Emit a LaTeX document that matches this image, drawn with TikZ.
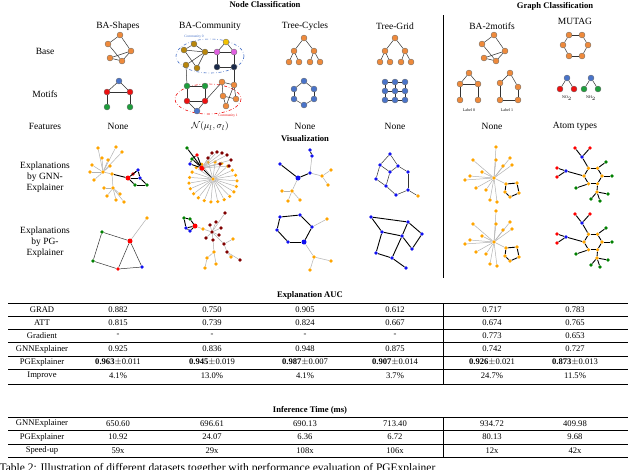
\documentclass[tikz,border=0pt]{standalone}
\usepackage{fontspec}
\setmainfont{Liberation Serif}
\usepackage{amsmath}
\usetikzlibrary{calc}
\newcommand{\trow}[8]{\node[tab] at (42,#1) {#2};\node[tab] at (118,#1) {#3};\node[tab] at (212,#1) {#4};
 \node[tab] at (305,#1) {#5};\node[tab] at (395,#1) {#6};\node[tab] at (492,#1) {#7};\node[tab] at (575,#1) {#8};}
\begin{document}
\begin{tikzpicture}[x=1pt,y=-1pt,
  v/.style={circle,draw=black!60,line width=0.3pt,inner sep=0,minimum size=6pt},
  s/.style={circle,inner sep=0,minimum size=3.6pt},
  e/.style={draw=black!80,line width=0.5pt},
  eb/.style={draw=black,line width=0.9pt},
  eg/.style={draw=black!30,line width=0.5pt},
  lab/.style={font=\fontsize{9.5}{11}\selectfont,align=center},
  tab/.style={font=\fontsize{8.6}{10}\selectfont},
  hd/.style={font=\fontsize{8.6}{10}\selectfont\bfseries}]
\definecolor{OR}{HTML}{EE8A3C}\definecolor{BL}{HTML}{4A74C9}
\definecolor{RD}{HTML}{EE1111}\definecolor{GR}{HTML}{1E9E3C}
\definecolor{BR}{HTML}{B8860B}\definecolor{MG}{HTML}{E060E0}
\definecolor{YL}{HTML}{F2C200}\definecolor{NV}{HTML}{1A2A4A}
\definecolor{EO}{HTML}{FFA500}\definecolor{EB}{HTML}{1010F0}
\definecolor{ER}{HTML}{FF0000}\definecolor{EG}{HTML}{008000}
\definecolor{ED}{HTML}{800000}
\clip (0,0) rectangle (640,469);
\fill[white] (0,0) rectangle (640,469);
% headings
\node[hd] (h1) at (265,5) {Node Classification};
\node[hd] (h2) at (555,6) {Graph Classification};
\draw[line width=0.8pt] (443,15) -- (443,278);
\foreach \x/\t in {118/BA-Shapes,210/BA-Community,305/Tree-Cycles,395/Tree-Grid,492/BA-2motifs}
  \node[lab] at (\x,26) {\t};
\node[lab] (mutag) at (575,21) {MUTAG};
\node[lab] (lb) at (45,51) {Base};
\node[lab] (lm) at (45,94) {Motifs};
\node[lab] (lf) at (45,126) {Features};
\foreach \x in {118,305,395,492} \node[lab] at (\x,126) {None};
\node[lab] at (210,126) {$\mathcal{N}(\mu_l,\sigma_l)$};
\node[lab] at (575,126) {Atom types};
\node[hd] (vis) at (305,139) {Visualization};
\node[lab] (lg) at (45,177) {Explanations\\by GNN-\\Explainer};
\node[lab] (lp) at (45,242) {Explanations\\by PG-\\Explainer};
% BA-Shapes base + BA-2motifs base
\foreach \dx/\p in {0/s,374/m}{
\begin{scope}[xshift=\dx]
\node[v,fill=OR] (\p a) at (108,44) {};\node[v,fill=OR] (\p b) at (120,35) {};
\node[v,fill=OR] (\p c) at (131,51) {};\node[v,fill=OR] (\p d) at (122,61) {};
\node[v,fill=OR] (\p e) at (110,58) {};
\foreach \a/\b in {a/b,b/c,c/d,a/d,e/c,e/d} \draw[e] (\p\a)--(\p\b);
\end{scope}}
% BA-Shapes motif
\node[v,fill=BL] (sm1) at (119,81) {};\node[v,fill=RD] (sm2) at (107,92) {};
\node[v,fill=RD] (sm3) at (130,92) {};\node[v,fill=GR] (sm4) at (107,107) {};
\node[v,fill=GR] (sm5) at (130,107) {};
\foreach \a/\b in {1/2,1/3,2/3,2/4,3/5} \draw[e] (sm\a)--(sm\b);
% BA-Community
\draw[BL,dash dot,line width=0.6pt] (210,56) ellipse [x radius=34,y radius=17];
\draw[RD,dash dot,line width=0.6pt] (208,99) ellipse [x radius=33,y radius=15];
\node[text=BL,font=\fontsize{3.5}{4}\selectfont] at (194,37) {Community 0};
\node[text=RD,font=\fontsize{3.5}{4}\selectfont] at (228,116) {Community 1};
\node[v,fill=BR] (c1) at (184,50) {};\node[v,fill=BR] (c2) at (194,44) {};
\node[v,fill=BR] (c3) at (205,52) {};\node[v,fill=BR] (c4) at (186,65) {};
\node[v,fill=BR] (c5) at (197,68) {};\node[v,fill=YL] (c6) at (226,42) {};
\node[v,fill=MG] (c7) at (217,52) {};\node[v,fill=MG] (c8) at (234,52) {};
\node[v,fill=NV] (c9) at (217,67) {};\node[v,fill=NV] (c10) at (234,67) {};
\foreach \a/\b in {1/2,2/3,1/3,1/5,3/4,3/5,3/7,6/7,6/8,7/8,7/9,8/10,9/10} \draw[e] (c\a)--(c\b);
\node[v,fill=GR] (d1) at (187,86) {};\node[v,fill=GR] (d2) at (205,86) {};
\node[v,fill=RD] (d3) at (187,101) {};\node[v,fill=RD] (d4) at (205,101) {};
\node[v,fill=BL] (d5) at (197,111) {};\node[v,fill=OR] (d6) at (222,82) {};
\node[v,fill=OR] (d7) at (234,85) {};\node[v,fill=OR] (d8) at (223,96) {};
\node[v,fill=OR] (d9) at (236,99) {};\node[v,fill=OR] (d10) at (226,106) {};
\foreach \a/\b in {1/2,1/3,2/4,3/4,3/5,4/5,4/6,6/7,6/8,7/9,8/9,8/10,7/10} \draw[e] (d\a)--(d\b);
\draw[e] (c4)--(d1);\draw[e] (c10)--(d7);
% Tree-Cycles / Tree-Grid base
\foreach \dx/\p in {0/t,91/u}{
\begin{scope}[xshift=\dx]
\node[v,fill=OR] (\p 0) at (304,38) {};
\node[v,fill=OR] (\p 1) at (294,51) {};\node[v,fill=OR] (\p 2) at (314,51) {};
\node[v,fill=OR] (\p 3) at (289,62) {};\node[v,fill=OR] (\p 4) at (299,62) {};
\node[v,fill=OR] (\p 5) at (310,62) {};\node[v,fill=OR] (\p 6) at (320,62) {};
\foreach \a/\b in {0/1,0/2,1/3,1/4,2/5,2/6} \draw[e] (\p\a)--(\p\b);
\end{scope}}
% Tree-Cycles motif
\node[v,fill=BL] (tc1) at (304,81) {};\node[v,fill=BL] (tc2) at (294,89) {};
\node[v,fill=BL] (tc3) at (314,89) {};\node[v,fill=BL] (tc4) at (294,99) {};
\node[v,fill=BL] (tc5) at (314,99) {};\node[v,fill=BL] (tc6) at (304,105) {};
\foreach \a/\b in {1/2,1/3,2/4,3/5,4/6,5/6} \draw[e] (tc\a)--(tc\b);
% Tree-Grid motif
\foreach \i/\x in {1/385,2/395,3/405}\foreach \j/\y in {1/82,2/91,3/100}
  \node[v,fill=BL] (g\i\j) at (\x,\y) {};
\foreach \i in {1,2,3}{\draw[e] (g1\i)--(g2\i)--(g3\i);\draw[e] (g\i1)--(g\i2)--(g\i3);}
% BA-2motifs motifs
\node[v,fill=OR] (p1) at (469,73) {};\node[v,fill=OR] (p2) at (460,84) {};
\node[v,fill=OR] (p3) at (478,84) {};\node[v,fill=OR] (p4) at (460,100) {};
\node[v,fill=OR] (p5) at (478,100) {};
\foreach \a/\b in {1/2,1/3,2/3,2/4,3/5} \draw[e] (p\a)--(p\b);
\node[v,fill=OR] (q1) at (510,73) {};\node[v,fill=OR] (q2) at (500,83) {};
\node[v,fill=OR] (q3) at (518,87) {};\node[v,fill=OR] (q4) at (500,100) {};
\node[v,fill=OR] (q5) at (518,100) {};
\foreach \a/\b in {1/2,1/3,2/4,4/5,3/5} \draw[e] (q\a)--(q\b);
\node[font=\fontsize{4}{5}\selectfont] at (469,110) {Label 0};
\node[font=\fontsize{4}{5}\selectfont] at (507,110) {Label 1};
% MUTAG base ring
\node[v,fill=OR] (r1) at (569,35) {};\node[v,fill=OR] (r2) at (582,35) {};
\node[v,fill=OR] (r3) at (588,45) {};\node[v,fill=OR] (r4) at (582,56) {};
\node[v,fill=OR] (r5) at (569,56) {};\node[v,fill=OR] (r6) at (563,45) {};
\foreach \a/\b in {1/2,2/3,3/4,4/5,5/6,6/1} \draw[e] (r\a)--(r\b);
\node[v,fill=BL] (n1) at (567,78) {};\node[v,fill=RD] (n2) at (560,89) {};\node[v,fill=RD] (n3) at (574,89) {};
\node[v,fill=BL] (n4) at (591,78) {};\node[v,fill=GR] (n5) at (584,89) {};\node[v,fill=GR] (n6) at (598,89) {};
\foreach \a/\b in {1/2,1/3,4/5,4/6} \draw[e] (n\a)--(n\b);
\node[font=\fontsize{4}{5}\selectfont] at (567,98) {NO$_2$};
\node[font=\fontsize{4}{5}\selectfont] at (591,98) {NH$_2$};
% ===== GNN explanations
% BA-Shapes
\node[s,fill=EO] (a0) at (103,172) {};\node[s,fill=EO] (a00) at (112,174) {};
\foreach \i/\x/\y in {1/98/148,2/116/147,3/122/152,4/92/165,5/94/180,6/108/160,7/102/158,8/110/166,9/90/172}
  {\node[s,fill=EO] (aa\i) at (\x,\y) {};\draw[eg] (a0)--(aa\i);}
\node[s,fill=EO] (ab) at (113,188) {};\draw[eg] (a00)--(ab);
\foreach \i/\x/\y in {1/107/196,2/120/194,3/124/202,4/104/188,5/116/200}
  {\node[s,fill=EO] (ac\i) at (\x,\y) {};\draw[eg] (ab)--(ac\i);}
\draw[eg] (a0)--(a00);
\node[s,fill=ER,minimum size=5pt] (ar) at (128,178) {};
\node[s,fill=EB] (ab1) at (138,170) {};\node[s,fill=EB] (ab2) at (140,178) {};
\node[s,fill=EG] (ag1) at (135,185) {};\node[s,fill=EG] (ag2) at (147,185) {};
\node[s,fill=ER] (ar2) at (133,174) {};
\foreach \a/\b in {a00/ar,ar/ab1,ar/ab2,ab1/ab2,ar/ag1,ab2/ag2,ag1/ag2,ab1/ar2} \draw[eb] (\a)--(\b);
% BA-Community
\node[s,fill=ER,minimum size=5.5pt] (b0) at (202,168) {};
\node[s,fill=EO] (bh) at (213,179) {};\draw[eb] (b0)--(bh);
\foreach \i in {0,...,21}{\node[s,fill=EO] (bl\i) at ($(213,182)+(\i*16.36+95:24 and 20)$) {};\draw[eg] (bh)--(bl\i);}
\node[s,fill=EG] (bg1) at (187,148) {};\node[s,fill=EG] (bg2) at (192,159) {};
\node[s,fill=EB] (bb1) at (190,164) {};\node[s,fill=ER] (br1) at (197,155) {};
\foreach \a/\b in {b0/bg1,b0/bg2,b0/bb1,b0/br1,bg2/br1,bb1/bg2} \draw[eb] (\a)--(\b);
\foreach \i/\x/\y in {1/212/153,2/217/152,3/222/153,4/227/155,5/208/158,6/231/160,7/229/166,8/220/164}
  {\node[s,fill=ED] (bd\i) at (\x,\y) {};\draw[eg] (b0)--(bd\i);}
% Tree-Cycles
\node[s,fill=EB,minimum size=5pt] (c0) at (298,178) {};
\node[s,fill=EB] (cb1) at (280,164) {};\node[s,fill=EB] (cb2) at (310,173) {};
\node[s,fill=EB] (cb3) at (312,156) {};\node[s,fill=EB] (cb4) at (310,150) {};
\node[s,fill=EO] (co1) at (322,176) {};\node[s,fill=EO] (co2) at (331,170) {};\node[s,fill=EO] (co3) at (328,185) {};
\node[s,fill=EO] (co4) at (292,191) {};\node[s,fill=EO] (co5) at (282,191) {};\node[s,fill=EO] (co6) at (300,200) {};\node[s,fill=EO] (co7) at (288,201) {};
\foreach \a/\b in {c0/cb1,c0/cb2,cb3/cb4} \draw[eb] (\a)--(\b);
\foreach \a/\b in {cb2/cb3,cb2/co1,co1/co2,co1/co3,c0/co4,co4/co5,co4/co6,co4/co7} \draw[eg] (\a)--(\b);
% Tree-Grid
\foreach \i/\x/\y in {1/390/154,2/380/165,3/398/166,4/390/172,5/408/172,6/376/179,7/386/186,8/396/195,9/408/190}
  \node[s,fill=EB] (d\i x) at (\x,\y) {};
\node[s,fill=EO] (dox) at (418,196) {};
\foreach \a/\b in {1/2,1/3,2/4,3/4,3/5,2/6,6/7,4/7,7/8,8/9,5/9} \draw[e] (d\a x)--(d\b x);
\draw[e] (d9x)--(dox);
% BA-2motifs GNN and PG
\foreach \dy/\p in {0/m,64/n}{
\begin{scope}[yshift=-\dy]
\node[s,fill=EO] (\p h) at (494,178) {};
\foreach \i/\x/\y in {1/496/147,2/510/158,3/473/160,4/465/180,5/476/188,6/490/200,7/497/202,8/482/172,9/503/166,10/512/165,11/470/176,12/486/190,13/496/160}
  {\node[s,fill=EO] (\p l\i) at (\x,\y) {};\draw[eg] (\p h)--(\p l\i);}
\node[s,fill=EO] (\p p1) at (506,184) {};\node[s,fill=EO] (\p p2) at (517,183) {};
\node[s,fill=EO] (\p p3) at (519,193) {};\node[s,fill=EO] (\p p4) at (510,197) {};\node[s,fill=EO] (\p p5) at (505,192) {};
\draw[eg] (\p h)--(\p p1);
\foreach \a/\b in {1/2,2/3,3/4,4/5,5/1} \draw[eb] (\p p\a)--(\p p\b);
\end{scope}}
% MUTAG GNN and PG
\foreach \dy/\p in {0/k,66/w}{
\begin{scope}[yshift=-\dy]
\foreach \i in {1,...,6} \node[s,fill=EO] (\p r\i) at ($(593,176)+(\i*60:9)$) {};
\foreach \a/\b in {1/2,2/3,3/4,4/5,5/6,6/1} \draw[eb] (\p r\a)--(\p r\b);
\node[s,fill=EB] (\p n1) at (582,157) {};\node[s,fill=ER] (\p o1) at (575,148) {};\node[s,fill=ER] (\p o2) at (590,148) {};
\node[s,fill=EB] (\p n2) at (566,171) {};\node[s,fill=ER] (\p o3) at (557,168) {};\node[s,fill=ER] (\p o4) at (557,177) {};
\node[s,fill=EG] (\p g1) at (606,162) {};\node[s,fill=EG] (\p g2) at (612,176) {};\node[s,fill=EG] (\p g3) at (576,188) {};
\node[s,fill=EO] (\p c) at (597,192) {};\node[s,fill=EG] (\p g4) at (591,199) {};\node[s,fill=EG] (\p g5) at (600,201) {};\node[s,fill=EG] (\p g6) at (608,194) {};
\foreach \a/\b in {n1/r4,n1/o1,n1/o2,n2/r3,n2/o3,n2/o4,r5/g1,r6/g2,r2/g3,r1/c,c/g4,c/g5,c/g6} \draw[eb] (\p\a)--(\p\b);
\end{scope}}
% ===== PG explanations
% BA-Shapes
\node[s,fill=EG] (pa1) at (102,232) {};\node[s,fill=ER,minimum size=5pt] (pa2) at (130,241) {};
\node[s,fill=EG] (pa3) at (93,261) {};\node[s,fill=ER] (pa4) at (118,269) {};
\node[s,fill=EB] (pa5) at (142,267) {};\node[s,fill=EO] (pa6) at (147,218) {};
\foreach \a/\b in {1/2,1/3,3/4,2/4,2/5,4/5} \draw[e] (pa\a)--(pa\b);
\draw[eg] (pa2)--(pa6);
% BA-Community
\node[s,fill=EG] (pb1) at (184,218) {};\node[s,fill=EG] (pb2) at (190,219) {};
\node[s,fill=EB] (pb3) at (186,228) {};\node[s,fill=EB] (pb4) at (190,231) {};
\node[s,fill=ER,minimum size=5pt] (pb5) at (195,226) {};
\foreach \a/\b in {1/2,1/3,2/5,3/4,4/5,3/5} \draw[eb] (pb\a)--(pb\b);
\node[s,fill=EO] (pb6) at (203,229) {};\draw[eg] (pb5)--(pb6);
\node[s,fill=ED] (pb7) at (212,232) {};\draw[eg] (pb6)--(pb7);
\foreach \i/\x/\y in {1/210/225,2/216/222,3/221/228,4/206/238,5/213/240,6/219/235,7/225/213,8/224/244}
  {\node[s,fill=ED] (pd\i) at (\x,\y) {};\draw[eg] (pb7)--(pd\i);}
\node[s,fill=ED] (pd9) at (227,252) {};\node[s,fill=ED] (pd10) at (240,260) {};
\node[s,fill=EO] (pe1) at (214,252) {};\node[s,fill=EO] (pe2) at (207,258) {};\node[s,fill=EO] (pe3) at (216,264) {};
\node[s,fill=EO] (pe4) at (205,268) {};\node[s,fill=EO] (pe5) at (231,257) {};\node[s,fill=EO] (pe6) at (233,239) {};
\foreach \a/\b in {pd8/pd9,pd9/pd10,pd5/pe1,pe1/pe2,pe1/pe3,pe2/pe4,pd9/pe5,pd8/pe6} \draw[eg] (\a)--(\b);
% Tree-Cycles
\node[s,fill=EB] (pc1) at (280,217) {};\node[s,fill=EB] (pc2) at (300,215) {};
\node[s,fill=EB] (pc3) at (312,227) {};\node[s,fill=EB,minimum size=5pt] (pc4) at (304,242) {};
\node[s,fill=EB] (pc5) at (288,242) {};\node[s,fill=EB] (pc6) at (277,230) {};
\foreach \a/\b in {1/2,2/3,3/4,4/5,5/6,6/1} \draw[eb] (pc\a)--(pc\b);
\node[s,fill=EO] (pco1) at (327,219) {};\node[s,fill=EO] (pco2) at (314,257) {};
\node[s,fill=EO] (pco3) at (331,261) {};\node[s,fill=EO] (pco4) at (310,270) {};
\foreach \a/\b in {pc3/pco1,pc4/pco2,pco2/pco3,pco2/pco4} \draw[eg] (\a)--(\b);
% Tree-Grid
\foreach \i/\x/\y in {1/371/217,2/408/222,3/382/232,4/402/236,5/422/234,6/376/253,7/392/258,8/412/249,9/406/268}
  \node[s,fill=EB] (pg\i) at (\x,\y) {};
\foreach \a/\b in {1/2,1/3,2/4,2/5,3/4,3/6,4/8,5/8,6/7,4/7,7/9} \draw[eb] (pg\a)--(pg\b);
% ===== Tables
\node[hd] (t1) at (310,295) {Explanation AUC};
\draw[line width=0.9pt] (8,303) -- (628,303);
\foreach \y in {316,329,342,356,369} \draw[line width=0.4pt] (8,\y) -- (628,\y);
\draw[line width=0.9pt] (8,384) -- (628,384);
\draw[line width=0.6pt] (443,303) -- (443,384);
\trow{309.5}{GRAD}{0.882}{0.750}{0.905}{0.612}{0.717}{0.783}
\trow{322.5}{ATT}{0.815}{0.739}{0.824}{0.667}{0.674}{0.765}
\trow{335.5}{Gradient}{-}{-}{-}{-}{0.773}{0.653}
\trow{349}{GNNExplainer}{0.925}{0.836}{0.948}{0.875}{0.742}{0.727}
\trow{362.5}{PGExplainer}{\textbf{0.963}$\pm$0.011}{\textbf{0.945}$\pm$0.019}{\textbf{0.987}$\pm$0.007}{\textbf{0.907}$\pm$0.014}{\textbf{0.926}$\pm$0.021}{\textbf{0.873}$\pm$0.013}
\trow{376}{Improve}{4.1\%}{13.0\%}{4.1\%}{3.7\%}{24.7\%}{11.5\%}
\node[hd] (t2) at (310,410) {Inference Time (ms)};
\draw[line width=0.6pt] (8,417) -- (628,417);
\foreach \y in {430.5,444} \draw[line width=0.4pt] (8,\y) -- (628,\y);
\draw[line width=0.9pt] (8,457) -- (628,457);
\draw[line width=0.6pt] (443,417) -- (443,457);
\trow{423.5}{GNNExplainer}{650.60}{696.61}{690.13}{713.40}{934.72}{409.98}
\trow{437}{PGExplainer}{10.92}{24.07}{6.36}{6.72}{80.13}{9.68}
\trow{450.5}{Speed-up}{59x}{29x}{108x}{106x}{12x}{42x}
\node[anchor=west,font=\fontsize{11.5}{13}\selectfont] (cap) at (-4,469) {Table 2: Illustration of different datasets together with performance evaluation of PGExplainer};
\end{tikzpicture}
\end{document}
